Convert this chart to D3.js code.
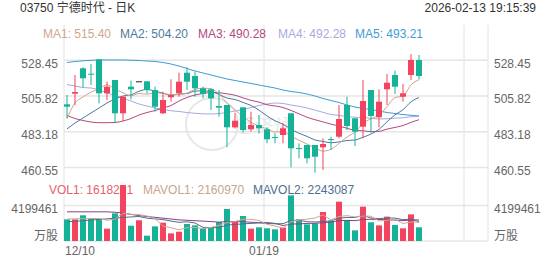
<!DOCTYPE html>
<html>
<head>
<meta charset="utf-8">
<script src="https://cdn.jsdelivr.net/npm/d3@7/dist/d3.min.js"></script>
<style>
  html, body { margin: 0; padding: 0; background: #fff; }
  svg text { font-family: "Liberation Sans", Arial, "Noto Sans CJK SC", sans-serif; }
</style>
</head>
<body>
<div id="chart"></div>
<script>
// Trading days shown (12/10 .. 02/13).
var dates = ['12/10','12/11','12/12','12/15','12/16','12/17','12/18','12/19','12/22','12/23',
  '12/24','12/29','12/30','12/31','01/02','01/05','01/06','01/07','01/08','01/09',
  '01/12','01/13','01/14','01/15','01/16','01/19','01/20','01/21','01/22','01/23',
  '01/26','01/27','01/28','01/29','01/30','02/02','02/03','02/04','02/05','02/06',
  '02/09','02/10','02/11','02/12','02/13'];
var dateTicks = ['12/10', '01/19'];

var open = [500.57,507.27,523.33,519.90,529.02,507.52,515.93,494.88,511.70,515.11,
  515.11,509.61,494.88,505.00,507.52,520.55,518.46,510.68,510.05,499.49,
  500.13,486.03,498.67,484.76,487.48,484.76,479.90,481.16,494.88,472.90,
  474.84,474.84,473.38,478.60,480.08,500.13,491.72,486.41,509.61,492.35,
  510.05,519.09,505.37,519.09,528.58];
var high = [506.45,519.10,524.00,526.05,529.02,514.86,515.93,505.40,515.49,515.11,
  515.11,511.70,508.53,516.37,520.55,523.96,521.18,511.70,510.68,509.61,
  500.13,494.88,498.67,495.89,493.80,486.03,482.23,488.56,494.88,475.91,
  474.84,474.84,479.07,480.08,500.13,505.37,491.72,515.93,509.61,510.05,
  519.70,521.81,513.40,532.37,531.74];
var low = [491.70,500.13,511.32,512.77,501.20,503.29,488.93,490.00,503.73,515.11,
  507.52,495.89,494.44,502.21,505.37,509.61,505.37,504.36,496.96,492.73,
  473.38,485.40,482.61,483.25,482.23,475.91,475.91,475.91,460.74,466.43,
  463.27,457.33,459.03,471.68,479.07,484.32,474.20,479.07,482.61,486.03,
  500.10,507.08,502.21,515.93,516.37];
var close = [499.05,508.34,517.01,519.60,507.52,511.70,494.88,505.37,510.05,515.11,
  509.61,499.05,503.29,506.45,514.86,514.86,510.68,507.08,504.36,498.42,
  486.03,490.20,484.32,487.48,485.40,478.44,479.70,485.40,472.75,472.75,
  466.43,467.44,475.47,478.44,491.27,486.85,483.25,502.65,493.17,502.21,
  514.22,511.70,507.52,528.58,518.46];

var volume = [2560000,2560000,3040000,2600000,2600000,1460000,3270000,6620000,1810000,2450000,
  630000,1730000,2170000,900000,1100000,2010000,1850000,1460000,1620000,2250000,
  3790000,2330000,2960000,1460000,1620000,1500000,1380000,1580000,5400000,2560000,
  1970000,2090000,3430000,2370000,4650000,2480000,1260000,4060000,2210000,1850000,
  2880000,1890000,1500000,3150000,1618201];

// Moving averages.
var ma1 = [491.5,501.4,505.2,508.3,510.3,512.83,510.14,507.81,505.9,507.42,
  507.0,507.84,507.42,506.7,506.65,507.7,510.03,510.79,510.37,507.08,
  501.31,497.22,492.67,489.29,486.69,485.17,483.07,483.28,480.34,477.81,
  475.41,472.95,470.97,472.11,475.81,479.89,483.06,488.49,491.44,493.63,
  499.1,504.79,505.76,512.85,516.1];
var ma2 = [485.0,488.7,491.9,495.1,498.2,501.4,503.9,505.8,506.5,508.86,
  509.92,508.99,507.62,506.3,507.04,507.35,508.93,509.1,508.54,506.87,
  504.51,503.62,501.73,499.83,496.88,493.24,490.14,487.98,484.81,482.25,
  480.29,478.01,477.13,476.22,476.81,477.65,478.01,479.73,481.77,484.72,
  489.5,493.92,497.13,502.14,504.86];
var ma3 = [493.49,491.59,490.33,489.38,488.93,488.93,489.06,490.01,491.59,493.8,
  495.38,496.65,498.23,499.81,502.65,504.87,506.45,507.4,508.03,507.86,
  507.21,506.31,504.67,503.07,501.96,500.3,499.54,498.54,496.67,494.56,
  492.4,490.82,489.43,488.03,486.85,485.45,484.07,483.85,483.29,483.48,
  484.89,485.97,487.13,489.18,490.84];
var ma4 = [513.09,512.14,511.19,510.87,509.61,507.71,506.13,504.55,502.65,500.76,
  499.49,498.23,497.28,496.52,496.02,495.38,494.88,494.56,494.44,494.75,
  495.38,496.33,497.28,498.54,499.81,500.76,501.39,501.07,500.13,499.33,
  498.24,496.87,495.49,494.12,493.58,492.75,492.36,492.27,491.71,491.28,
  491.43,491.85,491.99,492.73,492.85];
var ma5 = [527.0,527.63,528.07,528.39,528.58,528.58,528.58,528.58,528.45,528.26,
  527.94,527.63,526.99,526.05,524.78,523.2,521.62,520.36,519.09,517.83,
  516.56,515.62,514.67,513.72,512.77,511.82,510.87,509.61,508.66,508.03,
  507.08,505.82,504.24,502.97,501.71,500.13,498.86,497.91,497.28,496.33,
  495.38,494.75,494.12,493.61,493.23];

var mavol1 = [2600000,2620000,2650000,2660000,2670000,2450000,2590000,3310000,3150000,3120000,
  2960000,2650000,1760000,1580000,1310000,1580000,1610000,1460000,1610000,1840000,
  2190000,2290000,2590000,2560000,2430000,1970000,1780000,1510000,2300000,2480000,
  2580000,2720000,3090000,2480000,2900000,3000000,2840000,2960000,2930000,2370000,
  2450000,2580000,2070000,2250000,2210000];
var mavol2 = [2280000,2330000,2400000,2480000,2560000,2620000,2700000,2780000,2850000,2900000,
  2700000,2620000,2530000,2360000,2210000,2270000,2130000,1610000,1590000,1570000,
  1890000,1950000,2030000,2080000,2140000,2080000,2040000,2050000,2430000,2460000,
  2280000,2250000,2300000,2390000,2690000,2790000,2780000,3030000,2710000,2640000,
  2730000,2710000,2520000,2590000,2290000];
var mavol3 = [3450000,3450000,3450000,3450000,3450000,3450000,3400000,3300000,3150000,3000000,
  2900000,2800000,2700000,2600000,2500000,2450000,2400000,2350000,2300000,2230000,
  2300000,2280000,2280000,2220000,2170000,2180000,2080000,1830000,2010000,2020000,
  2080000,2100000,2160000,2240000,2410000,2440000,2410000,2540000,2570000,2550000,
  2500000,2480000,2410000,2490000,2490000];

var priceTicks = [460.55, 483.18, 505.82, 528.45];
var volTicks = [4199461];

var maNames = ['MA1', 'MA2', 'MA3', 'MA4', 'MA5'];
var maLegend = ['515.40', '504.20', '490.28', '492.28', '493.21'];
var volNames = ['VOL1', 'MAVOL1', 'MAVOL2'];
var volLegend = ['1618201', '2160970', '2243087'];

var maColors = ['#d2a68e', '#4c7b9c', '#b5487f', '#a9aadf', '#3f9bd6'];
var upColor = '#f2445f', downColor = '#14b398';
var volLineColors = ['#d2a68e', '#4c6f8f', '#8c3f82'];

var W = 552, H = 265;
var left = 64, right = 488, slots = 53;

drawChart();

function drawChart() {
  var svg = d3.select('#chart').append('svg')
    .attr('width', W)
    .attr('height', H);

  var x = d3.scaleLinear().domain([0, slots]).range([left, right]);
  var bw = 6;
  var cx = function (i) { return x(i) + bw / 2; };

  var y = d3.scaleLinear().domain([460.55, 528.45]).range([167.6, 60.2]);
  var yv = d3.scaleLinear().domain([0, 4199461]).range([241, 205.5]);

  // Header.
  svg.append('text').attr('x', 20).attr('y', 12)
    .style('font-size', '12px').style('fill', '#333')
    .text('03750 宁德时代 - 日K');
  svg.append('text').attr('x', 536).attr('y', 12)
    .attr('text-anchor', 'end')
    .style('font-size', '12px').style('fill', '#333')
    .text('2026-02-13  19:15:39');

  // Vertical grid.
  var vlines = [0, 25, 50].map(x).concat([right]);
  svg.append('g').selectAll('line').data(vlines).enter().append('line')
    .attr('x1', function (d) { return d; }).attr('x2', function (d) { return d; })
    .attr('y1', 25).attr('y2', 241)
    .style('stroke', '#e2e2e2').style('stroke-width', 1);

  // Horizontal grid.
  svg.append('g').selectAll('line').data(priceTicks).enter().append('line')
    .attr('x1', left).attr('x2', right)
    .attr('y1', function (d) { return y(d); }).attr('y2', function (d) { return y(d); })
    .style('stroke', '#e6e6e6').style('stroke-width', 1.5);
  svg.append('g').selectAll('line').data(volTicks.concat([0])).enter().append('line')
    .attr('x1', left).attr('x2', right)
    .attr('y1', function (d) { return yv(d); }).attr('y2', function (d) { return yv(d); })
    .style('stroke', '#e6e6e6').style('stroke-width', 1.5);

  // Watermark.
  var wm = svg.append('g').style('opacity', 0.8);
  wm.append('circle').attr('cx', 212).attr('cy', 124).attr('r', 26)
    .style('fill', 'none').style('stroke', '#e2e2e2').style('stroke-width', 2);
  wm.append('text').attr('x', 232).attr('y', 133)
    .style('font-size', '20px').style('font-style', 'italic').style('fill', '#e6e6e6')
    .text('经济通');

  // Axis labels.
  var lab = svg.append('g').style('font-size', '12px').style('fill', '#666');
  priceTicks.forEach(function (d) {
    lab.append('text').attr('x', 58).attr('y', y(d) + 7.5)
      .attr('text-anchor', 'end').text(d.toFixed(2));
    lab.append('text').attr('x', 494).attr('y', y(d) + 7.5).text(d.toFixed(2));
  });
  volTicks.forEach(function (d) {
    lab.append('text').attr('x', 58).attr('y', yv(d) + 7)
      .attr('text-anchor', 'end').text(d);
    lab.append('text').attr('x', 494).attr('y', yv(d) + 7).text(d);
  });
  lab.append('text').attr('x', 58).attr('y', 240).attr('text-anchor', 'end').text('万股');
  lab.append('text').attr('x', 494).attr('y', 240).text('万股');
  dateTicks.forEach(function (d, k) {
    var i = dates.indexOf(d);
    lab.append('text').attr('x', k == 0 ? x(i) + 1 : x(i)).attr('y', 255)
      .attr('text-anchor', k == 0 ? 'start' : 'middle').text(d);
  });

  // Legends.
  var leg = svg.append('g').style('font-size', '12px');
  var legX = [43, 120, 198, 278, 355];
  maNames.forEach(function (n, k) {
    leg.append('text').attr('x', legX[k]).attr('y', 38)
      .style('fill', maColors[k]).text(n + ': ' + maLegend[k]);
  });
  var volX = [49, 143, 253];
  var volColors = ['#e8606f', '#c9a58d', '#4c6f8f'];
  volNames.forEach(function (n, k) {
    leg.append('text').attr('x', volX[k]).attr('y', 194)
      .style('fill', volColors[k]).text(n + ': ' + volLegend[k]);
  });

  var idx = d3.range(dates.length);
  var color = function (i) {
    if (close[i] > open[i]) return upColor;
    if (close[i] < open[i]) return downColor;
    return '#222';
  };

  // Volume bars.
  svg.append('g').selectAll('rect').data(idx).enter().append('rect')
    .attr('x', function (i) { return x(i); })
    .attr('width', bw)
    .attr('y', function (i) { return yv(volume[i]); })
    .attr('height', function (i) { return yv(0) - yv(volume[i]); })
    .style('fill', function (i) { return close[i] >= open[i] ? upColor : downColor; });

  var vline = function (arr) {
    return d3.line().x(function (d, i) { return cx(i); })
      .y(function (d) { return yv(d); })(arr);
  };
  [mavol3, mavol2, mavol1].forEach(function (arr, k) {
    svg.append('path').attr('d', vline(arr))
      .style('fill', 'none')
      .style('stroke', [volLineColors[2], volLineColors[1], volLineColors[0]][k])
      .style('stroke-width', 1);
  });

  // Moving averages.
  var pline = function (arr) {
    return d3.line().x(function (d, i) { return cx(i); })
      .y(function (d) { return y(d); })
      .curve(d3.curveMonotoneX)(arr);
  };
  [ma5, ma4, ma3, ma2, ma1].forEach(function (arr, k) {
    svg.append('path').attr('d', pline(arr))
      .style('fill', 'none')
      .style('stroke', maColors[4 - k])
      .style('stroke-width', 1);
  });

  // Candles.
  var g = svg.append('g');
  g.selectAll('line').data(idx).enter().append('line')
    .attr('x1', function (i) { return cx(i); }).attr('x2', function (i) { return cx(i); })
    .attr('y1', function (i) { return y(high[i]); })
    .attr('y2', function (i) { return y(low[i]); })
    .style('stroke', color).style('stroke-width', 1);
  g.selectAll('rect').data(idx).enter().append('rect')
    .attr('x', function (i) { return x(i); })
    .attr('width', bw)
    .attr('y', function (i) { return y(Math.max(open[i], close[i])); })
    .attr('height', function (i) { return Math.max(1, Math.abs(y(open[i]) - y(close[i]))); })
    .style('fill', color);
}
</script>
</body>
</html>
